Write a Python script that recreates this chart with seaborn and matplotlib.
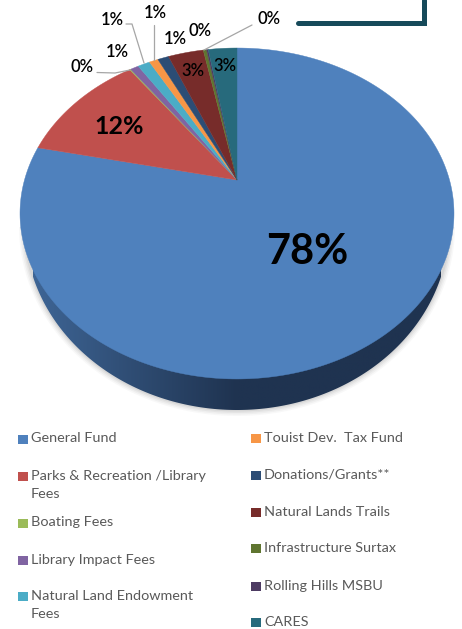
import numpy as np
import matplotlib
matplotlib.use("Agg")
import matplotlib.pyplot as plt
from matplotlib.patches import Polygon
import seaborn as sns

categories = ["General Fund", "Parks & Recreation /Library\nFees", "Boating Fees",
              "Library Impact Fees", "Natural Land Endowment\nFees", "Touist Dev.  Tax Fund",
              "Donations/Grants**", "Natural Lands Trails", "Infrastructure Surtax",
              "Rolling Hills MSBU", "CARES"]
# percent share
values = [78.4, 11.6, 0.1, 0.75, 1.1, 0.8, 1.0, 3.2, 0.3, 0.15, 2.6]
colors = ["#4f81bd", "#c0504d", "#9bbb59", "#8064a2", "#4bacc6", "#f79646",
          "#2c4d75", "#772c2a", "#5f7530", "#4d3b62", "#276a7c"]
pct_labels = ["78%", "12%", "0%", "1%", "1%", "1%", "1%", "3%", "0%", "0%", "3%"]

sns.set_theme(style="white")
plt.rcParams["font.family"] = ["Lato", "DejaVu Sans"]
palette = sns.color_palette(colors)

fig = plt.figure(figsize=(4.62, 6.29), dpi=100)
ax = fig.add_axes([0, 0, 1, 1])

# tilted disc: unit circle through a perspective map
CX, CY, A, B, K = 237, 180, 212.5, 158.7, 0.2024


def project(frac):
    ang = 2 * np.pi * np.asarray(frac)
    u, v = np.sin(ang), np.cos(ang)
    w = 1 + K * v
    return CX + A * u / w, CY - B * v / w


def lower_arc(cx, cy, a, b):
    t = np.linspace(0, np.pi, 300)
    return cx + a * np.cos(t), cy + b * np.sin(t)


# soft shadow under the rim
for grow, alpha in zip([6, 4.5, 3, 1.5], [0.05, 0.07, 0.09, 0.12]):
    gx, gy = lower_arc(237, 227, 212 + grow, 183 + grow)
    ax.fill(gx, gy, color="#808080", alpha=alpha, lw=0)

# rim, darkening left to right
sx, sy = lower_arc(237, 227, 212, 183)
rim = Polygon(np.column_stack([sx, sy]), closed=True, transform=ax.transData, fc="none", ec="none")
ax.add_patch(rim)
grad = np.clip(np.linspace(0, 1, 256) / 0.5, 0, 1)
c0, c1 = np.array(matplotlib.colors.to_rgb("#3e6595")), np.array(matplotlib.colors.to_rgb("#1f3350"))
img = (c0[None, :] * (1 - grad[:, None]) + c1[None, :] * grad[:, None])[None, :, :]
im = ax.imshow(img, extent=[33, 441, 420, 200], aspect="auto", zorder=1)
im.set_clip_path(rim)

# slices from the cumulative shares
edges = np.cumsum([0] + values) / np.sum(values)
for i, val in enumerate(values):
    f = np.linspace(edges[i], edges[i + 1], max(int(val * 4), 3))
    px, py = project(f)
    ax.fill(np.r_[CX, px], np.r_[CY, py], fc=palette[i], ec=palette[i], lw=0.3, zorder=2)

# leader lines
leaders = [([97, 115, 130], [72.5, 73, 70]), ([126, 132, 144], [24, 24, 63]),
           ([153.5, 153.5], [25, 60]), ([252, 204], [25, 50])]
for lx, ly in leaders:
    ax.plot(lx, ly, color="#a6a6a6", lw=0.9, zorder=3)

# percent labels
label_pos = [(307, 252), (119, 126), (82, 67), (117, 52), (112, 20), (155, 13),
             (175, 39), (193, 71), (200, 31), (269, 19), (225, 66)]
label_size = [30, 18, 12, 12, 12, 12, 12, 12, 12, 12, 12]
label_weight = ["bold", "bold"] + ["semibold"] * 9
for txt, (x, y), size, wt in zip(pct_labels, label_pos, label_size, label_weight):
    ax.text(x, y, txt, fontsize=size, fontweight=wt, color="black", ha="center", va="center", zorder=4)

# legend, two hand-spaced columns
legend_x = [18] * 5 + [251] * 6
legend_y = [439, 476, 523, 560, 596, 438, 475, 512, 548, 586, 622]
for name, col, x, y in zip(categories, palette, legend_x, legend_y):
    ax.fill([x, x + 9.5, x + 9.5, x], [y - 4.5, y - 4.5, y + 4.5, y + 4.5], color=col, lw=0)
    ax.text(x + 13, y - 6.5, name, fontsize=10.4, color="#595959", ha="left", va="top", linespacing=1.7)

# frame corner from the slide behind
ax.plot([298, 423.5, 423.5], [23, 23, 0], color="#164a5a", lw=3.6, solid_joinstyle="miter")

ax.set_xlim(0, 462)
ax.set_ylim(629, 0)
ax.axis("off")
fig.savefig("out.png", dpi=100)
